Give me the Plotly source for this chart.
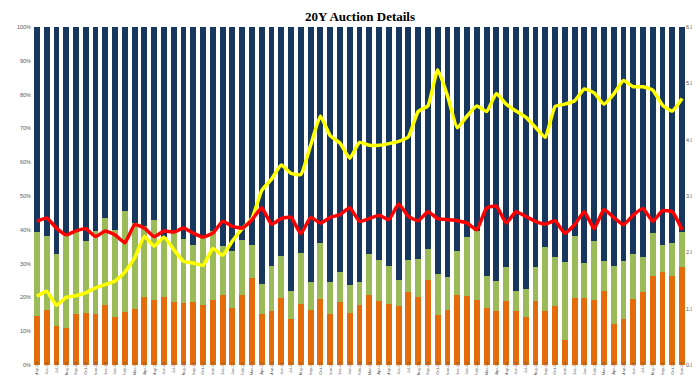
import plotly.graph_objects as go
from plotly.subplots import make_subplots

months = [
    "May-20", "Jun-20", "Jul-20", "Aug-20", "Sep-20", "Oct-20", "Nov-20", "Dec-20",
    "Jan-21", "Feb-21", "Mar-21", "Apr-21", "May-21", "Jun-21", "Jul-21", "Aug-21", "Sep-21", "Oct-21", "Nov-21", "Dec-21",
    "Jan-22", "Feb-22", "Mar-22", "Apr-22", "May-22", "Jun-22", "Jul-22", "Aug-22", "Sep-22", "Oct-22", "Nov-22", "Dec-22",
    "Jan-23", "Feb-23", "Mar-23", "Apr-23", "May-23", "Jun-23", "Jul-23", "Aug-23", "Sep-23", "Oct-23", "Nov-23", "Dec-23",
    "Jan-24", "Feb-24", "Mar-24", "Apr-24", "May-24", "Jun-24", "Jul-24", "Aug-24", "Sep-24", "Oct-24", "Nov-24", "Dec-24",
    "Jan-25", "Feb-25", "Mar-25", "Apr-25", "May-25", "Jun-25", "Jul-25", "Aug-25", "Sep-25", "Oct-25", "Nov-25",
]

orange_pct = [
    14.4, 16.2, 11.4, 10.9, 15.1, 15.4, 15.1, 17.7, 14.2, 15.7, 16.7, 20.0, 19.2, 20.0, 18.6, 18.3, 18.5, 17.7, 19.1, 20.6,
    16.9, 20.6, 25.7, 15.1, 15.9, 19.8, 13.7, 18.0, 16.4, 19.6, 15.1, 18.6, 15.3, 17.7, 20.8, 19.0, 18.0, 17.4, 21.5, 20.0,
    25.2, 14.9, 16.2, 20.6, 20.3, 19.3, 16.9, 15.9, 18.8, 16.1, 14.1, 19.0, 15.9, 17.4, 7.5, 19.8, 19.8, 19.3, 22.0, 12.1,
    13.7, 19.6, 21.6, 26.2, 27.5, 26.2, 28.9,
]

green_pct = [
    24.9, 21.9, 21.5, 27.7, 24.4, 21.4, 24.4, 25.8, 25.8, 29.8, 25.3, 21.0, 23.8, 17.8, 20.9, 19.1, 17.1, 19.9, 20.6, 14.5,
    16.7, 16.5, 9.7, 8.9, 13.3, 12.4, 8.1, 15.1, 8.2, 16.5, 9.5, 8.9, 8.3, 6.9, 12.0, 12.2, 11.2, 7.8, 9.7, 11.5,
    9.2, 12.0, 9.7, 13.0, 17.5, 20.2, 9.3, 9.0, 10.1, 5.7, 8.5, 9.9, 18.9, 14.5, 23.0, 18.3, 10.4, 17.5, 8.9, 17.1,
    17.0, 13.2, 10.5, 12.9, 7.9, 9.9, 10.4,
]

navy_pct = [
    60.7, 61.9, 67.1, 61.4, 60.5, 63.2, 60.5, 56.5, 60.0, 54.5, 58.0, 59.0, 57.0, 62.2, 60.5, 62.6, 64.4, 62.4, 60.3, 64.9,
    66.4, 62.9, 64.6, 76.0, 70.8, 67.8, 78.2, 66.9, 75.4, 63.9, 75.4, 72.5, 76.4, 75.4, 67.2, 68.8, 70.8, 74.8, 68.8, 68.5,
    65.6, 73.1, 74.1, 66.4, 62.2, 60.5, 73.8, 75.1, 71.1, 78.2, 77.4, 71.1, 65.2, 68.1, 69.5, 61.9, 69.8, 63.2, 69.1, 70.8,
    69.3, 67.2, 67.9, 60.9, 64.6, 63.9, 60.7,
]

yield_pct = [
    1.22, 1.31, 1.06, 1.20, 1.23, 1.28, 1.37, 1.43, 1.49, 1.65, 1.90, 2.28, 2.11, 2.27, 2.05, 1.84, 1.81, 1.77, 2.07, 1.95,
    2.20, 2.42, 2.60, 3.10, 3.30, 3.55, 3.40, 3.38, 3.90, 4.42, 4.07, 3.94, 3.67, 3.95, 3.90, 3.90, 3.93, 3.97, 4.05, 4.50,
    4.60, 5.24, 4.78, 4.21, 4.42, 4.60, 4.50, 4.82, 4.63, 4.51, 4.40, 4.22, 4.04, 4.59, 4.63, 4.69, 4.90, 4.83, 4.63, 4.81,
    5.05, 4.94, 4.94, 4.88, 4.61, 4.51, 4.73,
]

bid_to_cover = [
    2.55, 2.61, 2.43, 2.31, 2.38, 2.42, 2.28, 2.38, 2.31, 2.17, 2.49, 2.43, 2.28, 2.38, 2.36, 2.43, 2.34, 2.27, 2.34, 2.55,
    2.46, 2.43, 2.58, 2.79, 2.50, 2.60, 2.62, 2.33, 2.62, 2.52, 2.62, 2.67, 2.79, 2.55, 2.60, 2.66, 2.58, 2.86, 2.64, 2.56,
    2.72, 2.60, 2.58, 2.56, 2.52, 2.40, 2.79, 2.82, 2.52, 2.72, 2.64, 2.55, 2.50, 2.56, 2.34, 2.49, 2.72, 2.42, 2.76, 2.62,
    2.49, 2.66, 2.78, 2.55, 2.74, 2.72, 2.40,
]

left_ticks = [0, 10, 20, 30, 40, 50, 60, 70, 80, 90, 100]
left_labels = ["0%", "10%", "20%", "30%", "40%", "50%", "60%", "70%", "80%", "90%", "100%"]
right_ticks = [0, 1, 2, 3, 4, 5, 6]
right_labels = ["0.00", "1.00", "2.00", "3.00", "4.00", "5.00", "6.00"]

NAVY = "#17375E"
GREEN = "#9BBB59"
ORANGE = "#E46C0A"

fig = make_subplots(specs=[[{"secondary_y": True}]])

for vals, col, name in [(orange_pct, ORANGE, "Direct"), (green_pct, GREEN, "Indirect"), (navy_pct, NAVY, "Dealers")]:
    fig.add_trace(go.Bar(x=months, y=vals, name=name, marker=dict(color=col, line=dict(width=0)),
                         width=0.6), secondary_y=False)

fig.add_trace(go.Scatter(x=months, y=yield_pct, mode="lines", name="Yield",
                         line=dict(color="#FFFF00", width=3.5, shape="spline", smoothing=0.4)),
              secondary_y=True)
fig.add_trace(go.Scatter(x=months, y=bid_to_cover, mode="lines", name="Bid to Cover",
                         line=dict(color="#FF0000", width=3.5, shape="spline", smoothing=0.4)),
              secondary_y=True)

tick_font = dict(family="Liberation Sans, Arial, sans-serif", size=5.5, color="#595959")
x_font = dict(family="Liberation Sans, Arial, sans-serif", size=4.3, color="#595959")

fig.update_layout(
    width=700, height=375,
    barmode="stack",
    showlegend=False,
    paper_bgcolor="white", plot_bgcolor="white",
    margin=dict(l=24, r=21, t=19, b=18),
    annotations=[dict(text="<b>20Y Auction Details</b>", x=0.5, xref="paper", xanchor="center",
                      y=1.031, yref="paper", yanchor="middle", showarrow=False,
                      font=dict(family="Liberation Serif, Times New Roman, serif", size=13, color="#000000"))],
)
fig.update_xaxes(type="category", tickangle=-90, tickfont=x_font, showgrid=False, showline=False,
                 ticks="", automargin=False, range=[-0.5, len(months) - 0.5], domain=[0, 1],
                 ticklabelstandoff=-5)
fig.update_yaxes(range=[0, 100], tickvals=left_ticks, ticktext=left_labels, tickfont=tick_font,
                 showgrid=False, zeroline=False, showline=False, ticks="", automargin=False,
                 ticklabelstandoff=0, secondary_y=False)
fig.update_yaxes(range=[0, 6], tickvals=right_ticks, ticktext=right_labels, tickfont=tick_font,
                 showgrid=False, zeroline=False, showline=False, ticks="", automargin=False,
                 ticklabelstandoff=-2, secondary_y=True)

fig.write_html("out.html")
